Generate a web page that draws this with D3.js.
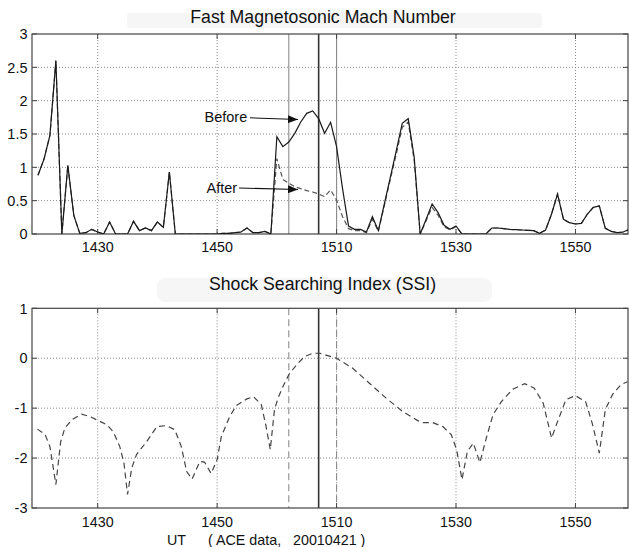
<!DOCTYPE html>
<html>
<head>
<meta charset="utf-8">
<script src="https://cdn.jsdelivr.net/npm/d3@7"></script>
<style>
html,body{margin:0;padding:0;background:#fff;}
svg{display:block;font-family:"Liberation Sans",Arial,Helvetica,sans-serif;}
</style>
</head>
<body>
<svg id="chart" width="629" height="547"></svg>
<script>
// ---- data (time in minutes after 14:00 UT) ----
const machTimes = [20,21,22,23,24,25,26,27,28,29,30,31,32,33,34,35,36,37,38,39,40,41,42,43,44,45,46,47,48,49,50,51,52,53,54,55,56,57,58,59,60,61,62,63,64,65,66,67,68,69,70,71,72,73,74,75,76,77,78,79,80,81,82,83,84,85,86,87,88,89,90,91,92,93,94,95,96,97,98,99,100,101,102,103,104,105,106,107,108,109,110,111,112,113,114,115,116,117,118,119];
const machBefore = [0.88,1.12,1.48,2.6,0,1.03,0.28,0.01,0.02,0.07,0.03,0,0.18,0,0,0,0.19,0.05,0.09,0.05,0.18,0.1,0.93,0,0,0,0,0,0,0,0,0.01,0.01,0.02,0.03,0.09,0.02,0.02,0.04,0,1.46,1.31,1.38,1.51,1.68,1.81,1.845,1.73,1.51,1.675,1.31,0.68,0.12,0.07,0.07,0.03,0.26,0.05,0.45,0.85,1.25,1.66,1.73,1.15,0,0.22,0.45,0.32,0.13,0.07,0.12,0,0,0,0,0,0.09,0.09,0.08,0.07,0.065,0.06,0.055,0.05,0.01,0.06,0.3,0.6,0.22,0.17,0.15,0.16,0.3,0.4,0.42,0.085,0.04,0.02,0.03,0.07];
const machAfter = [0.88,1.12,1.48,2.6,0,1.03,0.28,0.01,0.02,0.07,0.03,0,0.18,0,0,0,0.19,0.05,0.09,0.05,0.18,0.1,0.93,0,0,0,0,0,0,0,0,0.01,0.01,0.02,0.03,0.09,0.02,0.02,0.04,0,1.13,0.82,0.76,0.71,0.68,0.65,0.63,0.6,0.56,0.66,0.51,0.26,0.08,0.05,0.05,0.02,0.22,0.04,0.43,0.82,1.2,1.6,1.68,1.1,0,0.2,0.4,0.28,0.11,0.06,0.11,0,0,0,0,0,0.09,0.09,0.08,0.07,0.065,0.06,0.055,0.05,0.01,0.06,0.3,0.6,0.22,0.17,0.15,0.16,0.3,0.4,0.42,0.085,0.04,0.02,0.03,0.07];

const ssiTimes = [19.9,21.2,22.0,23.0,23.8,24.5,25.7,27.3,28.7,30.1,31.5,32.6,33.7,34.4,35.0,35.7,36.5,38.2,39.9,41.5,42.9,44.0,44.9,45.8,47.1,47.9,49.0,50.0,50.7,52.1,53.2,54.9,56.1,57.4,58.2,58.9,59.6,60.2,61.0,62.0,63.3,64.6,66.0,67.2,70.0,72.7,75.5,78.3,81.1,83.6,84.5,86.1,87.8,89.2,90.1,91.0,91.9,92.9,94.0,95.0,96.2,97.6,99.5,101.5,103.1,104.6,106.0,107.0,108.4,110.0,111.7,112.8,114.0,115.0,116.2,117.6,118.7];
const ssiValues = [-1.42,-1.53,-1.77,-2.53,-1.67,-1.4,-1.23,-1.12,-1.17,-1.25,-1.33,-1.47,-1.77,-2.1,-2.73,-2.2,-1.93,-1.67,-1.37,-1.35,-1.43,-1.77,-2.27,-2.42,-2.07,-2.08,-2.31,-2.03,-1.57,-1.17,-0.95,-0.82,-0.77,-0.93,-1.37,-1.83,-1.03,-0.8,-0.57,-0.33,-0.13,0.03,0.1,0.1,0,-0.2,-0.5,-0.8,-1.07,-1.25,-1.29,-1.29,-1.37,-1.53,-1.83,-2.43,-1.87,-1.7,-2.09,-1.63,-1.13,-0.87,-0.62,-0.51,-0.6,-0.9,-1.6,-1.27,-0.83,-0.75,-0.87,-1.3,-1.9,-1.03,-0.73,-0.53,-0.47];

const xTickValues = [30,50,70,90,110];
const xTickLabels = ["1430","1450","1510","1530","1550"];
const machTicks = [0,0.5,1,1.5,2,2.5,3];
const machTickLabels = ["0","0.5","1","1.5","2","2.5","3"];
const ssiTicks = [-3,-2,-1,0,1];
const ssiTickLabels = ["-3","-2","-1","0","1"];
const markerTimes = [62,67,70]; // side, centre, side

const titles = ["Fast Magnetosonic Mach Number","Shock Searching Index (SSI)"];
const xLabelParts = ["UT","( ACE data,","20010421 )"];

// ---- drawing ----
const svg = d3.select("#chart");
const x = d3.scaleLinear().domain([19, 118.8]).range([32, 628]);

function panel(id, yDomain, yRange, ticks, tickLabels, dashedMarkers, tickLabelY) {
  const y = d3.scaleLinear().domain(yDomain).range(yRange);
  const g = svg.append("g");
  const x0 = x.range()[0], x1 = x.range()[1];
  const yb = y.range()[0], yt = y.range()[1];
  g.append("clipPath").attr("id", id).append("rect")
    .attr("x", x0).attr("y", yt - 2).attr("width", x1 - x0).attr("height", yb - yt + 2);
  g.selectAll(".vg").data(xTickValues).enter().append("line")
    .attr("x1", d => x(d)).attr("x2", d => x(d)).attr("y1", yt).attr("y2", yb)
    .attr("stroke", "#8a8a8a").attr("stroke-width", 1).attr("stroke-dasharray", "1,2");
  g.selectAll(".hg").data(ticks.slice(1, -1)).enter().append("line")
    .attr("x1", x0).attr("x2", x1).attr("y1", d => y(d)).attr("y2", d => y(d))
    .attr("stroke", "#8a8a8a").attr("stroke-width", 1).attr("stroke-dasharray", "1,2");
  g.selectAll(".mk").data(markerTimes).enter().append("line")
    .attr("x1", d => x(d)).attr("x2", d => x(d)).attr("y1", yt).attr("y2", yb)
    .attr("stroke", (d, i) => i === 1 ? "#333" : "#8c8c8c")
    .attr("stroke-width", (d, i) => i === 1 ? 1.6 : 1.1)
    .attr("stroke-dasharray", (d, i) => (i !== 1 && dashedMarkers) ? "7,4" : null);
  const tl = 5;
  g.selectAll(".tb").data(xTickValues).enter().append("line")
    .attr("x1", d => x(d)).attr("x2", d => x(d)).attr("y1", yb).attr("y2", yb - tl)
    .attr("stroke", "#444");
  g.selectAll(".tt").data(xTickValues).enter().append("line")
    .attr("x1", d => x(d)).attr("x2", d => x(d)).attr("y1", yt).attr("y2", yt + tl)
    .attr("stroke", "#444");
  g.selectAll(".tlf").data(ticks).enter().append("line")
    .attr("x1", x0).attr("x2", x0 + tl).attr("y1", d => y(d)).attr("y2", d => y(d))
    .attr("stroke", "#444");
  g.selectAll(".trt").data(ticks).enter().append("line")
    .attr("x1", x1 - tl).attr("x2", x1).attr("y1", d => y(d)).attr("y2", d => y(d))
    .attr("stroke", "#444");
  g.append("rect").attr("x", x0).attr("y", yt).attr("width", x1 - x0).attr("height", yb - yt)
    .attr("fill", "none").attr("stroke", "#444").attr("stroke-width", 1.2);
  g.selectAll(".yl").data(ticks).enter().append("text")
    .attr("x", 27.5).attr("y", d => y(d)).attr("dy", "0.36em")
    .attr("text-anchor", "end").attr("font-size", 14.5).attr("fill", "#111")
    .text((d, i) => tickLabels[i]);
  g.selectAll(".xl").data(xTickValues).enter().append("text")
    .attr("x", d => x(d)).attr("y", tickLabelY)
    .attr("text-anchor", "middle").attr("font-size", 14.3).attr("fill", "#111")
    .text((d, i) => xTickLabels[i]);
  return {g: g, y: y, clip: "url(#" + id + ")"};
}

svg.append("rect").attr("x", 127).attr("y", 13).attr("width", 415).attr("height", 15).attr("fill", "#f6f6f6").attr("rx", 3);
svg.append("rect").attr("x", 157).attr("y", 278).attr("width", 335).attr("height", 24).attr("fill", "#f6f6f6").attr("rx", 8);
svg.append("text").attr("x", 323).attr("y", 22.7).attr("text-anchor", "middle").attr("font-size", 17.7).attr("fill", "#111").text(titles[0]);
svg.append("text").attr("x", 322.5).attr("y", 290).attr("text-anchor", "middle").attr("font-size", 17.7).attr("fill", "#111").text(titles[1]);

const machPanel = panel("clipTop", [0, 3], [234, 34], machTicks, machTickLabels, false, 252);
const lineTop = d3.line().x((d, i) => x(machTimes[i])).y(d => machPanel.y(d));
machPanel.g.append("path").datum(machAfter).attr("d", lineTop).attr("clip-path", machPanel.clip)
  .attr("fill", "none").attr("stroke", "#555").attr("stroke-width", 1.2).attr("stroke-dasharray", "5,3");
machPanel.g.append("path").datum(machBefore).attr("d", lineTop).attr("clip-path", machPanel.clip)
  .attr("fill", "none").attr("stroke", "#1a1a1a").attr("stroke-width", 1.2);

const defs = svg.append("defs");
defs.append("marker").attr("id", "arr").attr("viewBox", "0 0 10 8").attr("refX", 10).attr("refY", 4)
  .attr("markerWidth", 10).attr("markerHeight", 8).attr("markerUnits", "userSpaceOnUse").attr("orient", "auto")
  .append("path").attr("d", "M0,0 L10,4 L0,8 Z").attr("fill", "#111");
svg.append("text").attr("x", 204.5).attr("y", 122).attr("font-size", 14.5).attr("fill", "#111").text("Before");
svg.append("line").attr("x1", 250).attr("y1", 117.8).attr("x2", 298).attr("y2", 119.5)
  .attr("stroke", "#111").attr("stroke-width", 1.1).attr("marker-end", "url(#arr)");
svg.append("text").attr("x", 206.5).attr("y", 193).attr("font-size", 14.5).attr("fill", "#111").text("After");
svg.append("line").attr("x1", 239).attr("y1", 188).attr("x2", 298).attr("y2", 189.5)
  .attr("stroke", "#111").attr("stroke-width", 1.1).attr("marker-end", "url(#arr)");

const ssiPanel = panel("clipBot", [-3, 1], [508, 308.3], ssiTicks, ssiTickLabels, true, 526.5);
const lineBot = d3.line().x((d, i) => x(ssiTimes[i])).y(d => ssiPanel.y(d));
ssiPanel.g.append("path").datum(ssiValues).attr("d", lineBot).attr("clip-path", ssiPanel.clip)
  .attr("fill", "none").attr("stroke", "#444").attr("stroke-width", 1.2).attr("stroke-dasharray", "6,4");

const xl = [167, 208, 293];
svg.selectAll(".xlab").data(xLabelParts).enter().append("text")
  .attr("x", (d, i) => xl[i]).attr("y", 545).attr("font-size", 14.3).attr("fill", "#111").text(d => d);
</script>
</body>
</html>
